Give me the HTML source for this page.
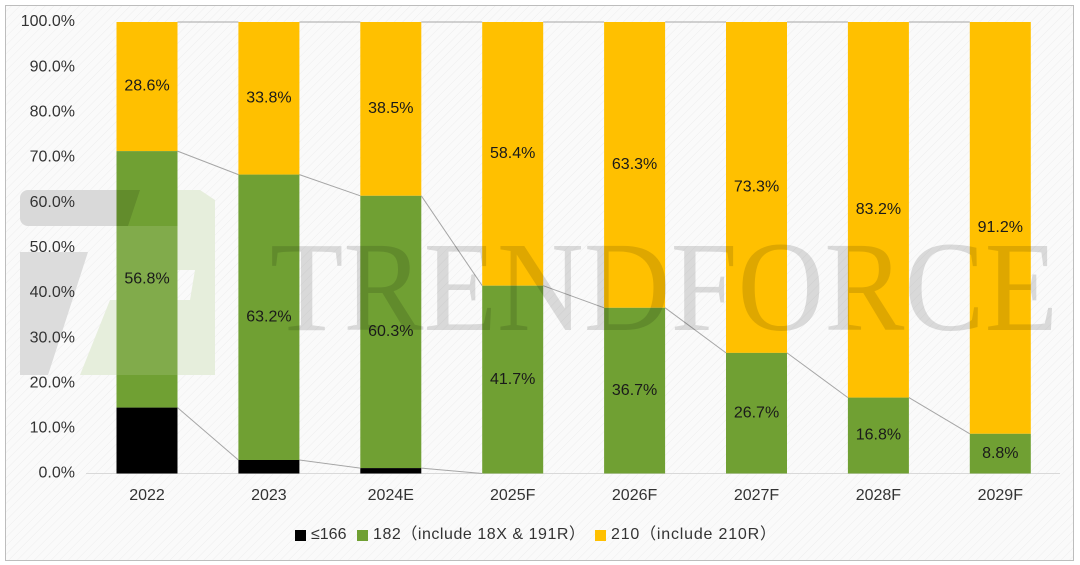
<!DOCTYPE html>
<html><head><meta charset="utf-8"><style>
html,body{margin:0;padding:0;background:#fff;}
svg{display:block;font-family:"Liberation Sans","Noto Sans CJK SC",sans-serif;}
</style></head><body>
<svg width="1080" height="565" viewBox="0 0 1080 565" xmlns="http://www.w3.org/2000/svg">
<defs>
<pattern id="h" width="6" height="6" patternUnits="userSpaceOnUse" patternTransform="rotate(45)">
<rect width="6" height="6" fill="#fafafa"/><line x1="0" y1="0" x2="0" y2="6" stroke="#eeeeee" stroke-width="1"/>
</pattern>
</defs>
<rect x="0" y="0" width="1080" height="565" fill="#fff"/>
<rect x="5.5" y="5.5" width="1068" height="555" fill="url(#h)" stroke="#bdbdbd" stroke-width="1"/>
<!-- watermark logo (behind) -->
<g>
<rect x="20" y="190" width="120" height="36" rx="8" fill="#d9d9d9"/>
<polygon points="20,252 88,252 48,375 20,375" fill="#dcdcdc"/>
<polygon points="145,190 200,190 215,200 215,375 80,375 110,300 190,300 195,270 120,270 140,226" fill="#e6eedc"/>
</g>
<line x1="86" y1="473.5" x2="1060" y2="473.5" stroke="#d9d9d9" stroke-width="1"/>
<g>
<rect x="116.5" y="22" width="61" height="129.1" fill="#ffc000"/><rect x="116.5" y="151.1" width="61" height="256.5" fill="#70a033"/><rect x="116.5" y="407.6" width="61" height="65.9" fill="#000"/>
<rect x="238.4" y="22" width="61" height="152.6" fill="#ffc000"/><rect x="238.4" y="174.6" width="61" height="285.4" fill="#70a033"/><rect x="238.4" y="460" width="61" height="13.5" fill="#000"/>
<rect x="360.3" y="22" width="61" height="173.8" fill="#ffc000"/><rect x="360.3" y="195.8" width="61" height="272.3" fill="#70a033"/><rect x="360.3" y="468.1" width="61" height="5.4" fill="#000"/>
<rect x="482.2" y="22" width="61" height="263.7" fill="#ffc000"/><rect x="482.2" y="285.7" width="61" height="187.8" fill="#70a033"/>
<rect x="604.1" y="22" width="61" height="285.8" fill="#ffc000"/><rect x="604.1" y="307.8" width="61" height="165.7" fill="#70a033"/>
<rect x="726.0" y="22" width="61" height="330.9" fill="#ffc000"/><rect x="726.0" y="352.9" width="61" height="120.6" fill="#70a033"/>
<rect x="847.9" y="22" width="61" height="375.6" fill="#ffc000"/><rect x="847.9" y="397.6" width="61" height="75.9" fill="#70a033"/>
<rect x="969.8" y="22" width="61" height="411.8" fill="#ffc000"/><rect x="969.8" y="433.8" width="61" height="39.7" fill="#70a033"/>
</g>
<!-- logo overlay on bar -->
<g opacity="0.12">
<polygon points="116.5,190 140,190 128,226 116.5,226" fill="#000"/>
</g>
<rect x="116.5" y="226" width="61" height="149" fill="#fff" opacity="0.12"/>
<g stroke="#a6a6a6" stroke-width="1" fill="none">
<polyline points="177.5,22 238.4,22"/><polyline points="299.4,22 360.3,22"/><polyline points="421.3,22 482.2,22"/><polyline points="543.2,22 604.1,22"/><polyline points="665.1,22 726,22"/><polyline points="787,22 847.9,22"/><polyline points="908.9,22 969.8,22"/>
<line x1="177.5" y1="151.1" x2="238.4" y2="174.6"/><line x1="299.4" y1="174.6" x2="360.3" y2="195.8"/><line x1="421.3" y1="195.8" x2="482.2" y2="285.7"/><line x1="543.2" y1="285.7" x2="604.1" y2="307.8"/><line x1="665.1" y1="307.8" x2="726" y2="352.9"/><line x1="787" y1="352.9" x2="847.9" y2="397.6"/><line x1="908.9" y1="397.6" x2="969.8" y2="433.8"/>
<line x1="177.5" y1="407.6" x2="238.4" y2="460"/><line x1="299.4" y1="460" x2="360.3" y2="468.1"/><line x1="421.3" y1="468.1" x2="482.2" y2="473.5"/>
</g>
<text x="270" y="330" font-family="Liberation Serif,serif" font-size="128" textLength="788" lengthAdjust="spacingAndGlyphs" fill="#000" fill-opacity="0.13">TRENDFORCE</text>
<g font-size="16" fill="#1a1a1a" text-anchor="middle" dominant-baseline="middle">
<text x="147" y="86.5">28.6%</text><text x="147" y="279.3">56.8%</text>
<text x="268.9" y="98.3">33.8%</text><text x="268.9" y="317.3">63.2%</text>
<text x="390.8" y="108.9">38.5%</text><text x="390.8" y="331.8">60.3%</text>
<text x="512.7" y="153.8">58.4%</text><text x="512.7" y="379.6">41.7%</text>
<text x="634.6" y="164.9">63.3%</text><text x="634.6" y="390.6">36.7%</text>
<text x="756.5" y="187.4">73.3%</text><text x="756.5" y="413.2">26.7%</text>
<text x="878.4" y="209.8">83.2%</text><text x="878.4" y="435.5">16.8%</text>
<text x="1000.3" y="227.9">91.2%</text><text x="1000.3" y="453.6">8.8%</text>
</g>
<g font-size="16" fill="#333" text-anchor="end" dominant-baseline="middle">
<text x="75" y="22">100.0%</text><text x="75" y="67.2">90.0%</text><text x="75" y="112.3">80.0%</text><text x="75" y="157.5">70.0%</text><text x="75" y="202.6">60.0%</text><text x="75" y="247.8">50.0%</text><text x="75" y="292.9">40.0%</text><text x="75" y="338.1">30.0%</text><text x="75" y="383.3">20.0%</text><text x="75" y="428.4">10.0%</text><text x="75" y="473.5">0.0%</text>
</g>
<g font-size="16" fill="#333" text-anchor="middle" dominant-baseline="middle">
<text x="147" y="496">2022</text><text x="268.9" y="496">2023</text><text x="390.8" y="496">2024E</text><text x="512.7" y="496">2025F</text><text x="634.6" y="496">2026F</text><text x="756.5" y="496">2027F</text><text x="878.4" y="496">2028F</text><text x="1000.3" y="496">2029F</text>
</g>
<g font-size="16" fill="#333" dominant-baseline="middle">
<rect x="295" y="530" width="11" height="11" fill="#000"/><text x="311" y="535">≤166</text>
<rect x="357" y="530" width="11" height="11" fill="#70a033"/><text x="373" y="535" textLength="212" lengthAdjust="spacing">182（include 18X &amp; 191R）</text>
<rect x="595" y="530" width="11" height="11" fill="#ffc000"/><text x="611" y="535" textLength="165" lengthAdjust="spacing">210（include 210R）</text>
</g>
</svg>
</body></html>
